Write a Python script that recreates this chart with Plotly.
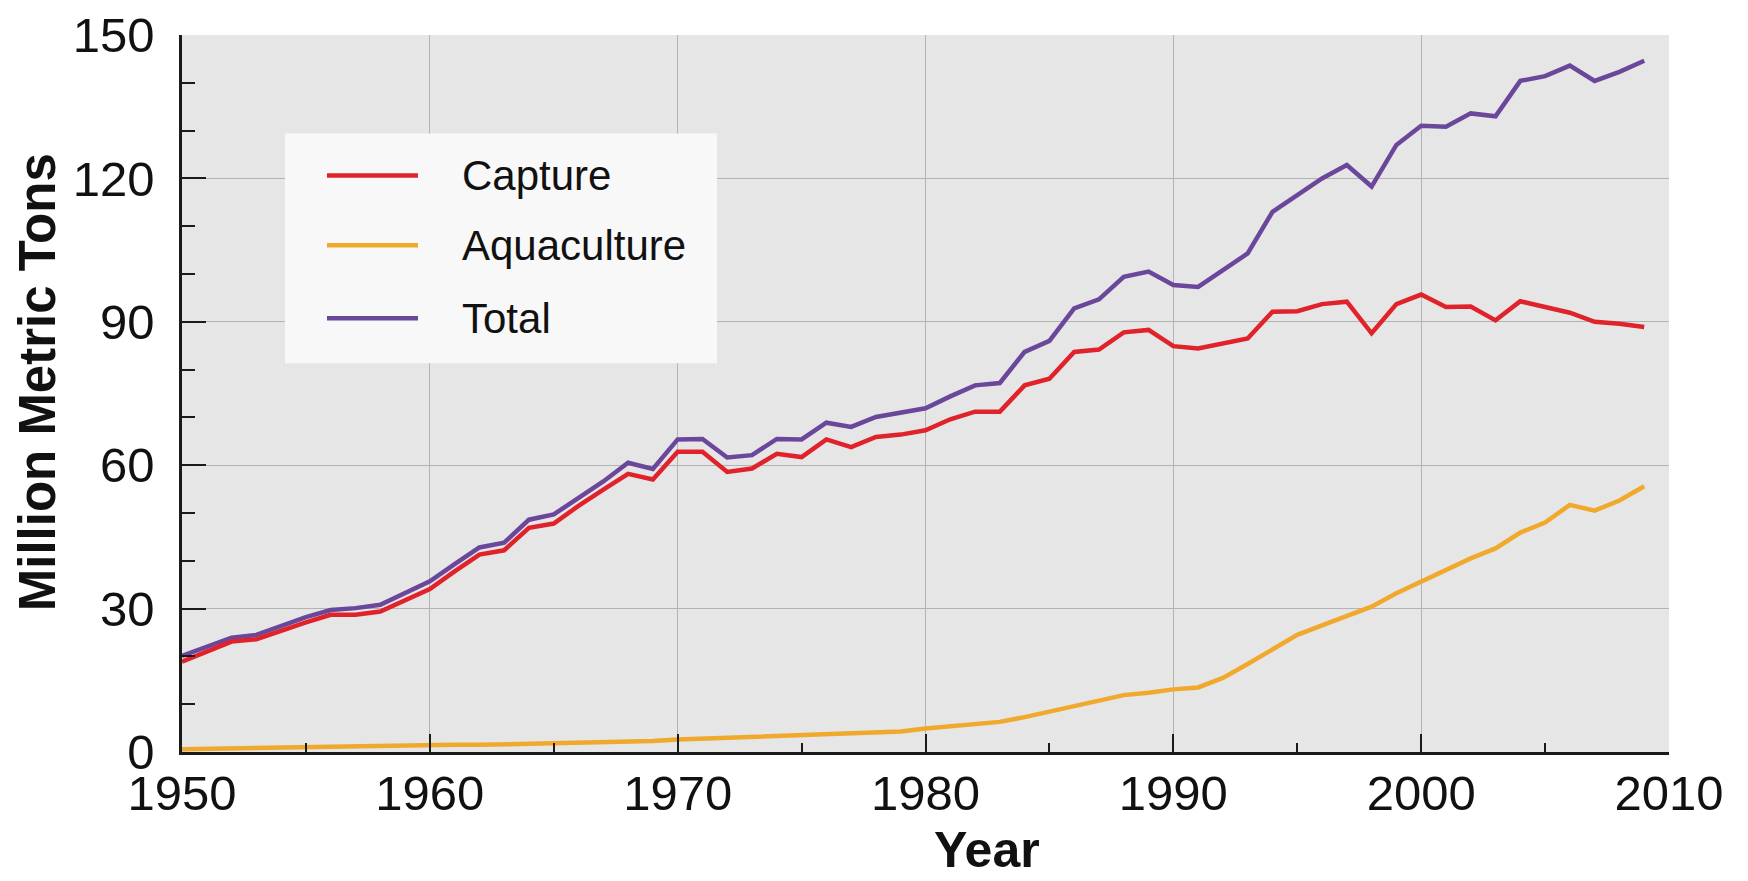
import plotly.graph_objects as go

years = list(range(1950, 2010))

capture = [18.9, 21.0, 23.1, 23.6, 25.4, 27.1, 28.7, 28.7, 29.4, 31.8,
           34.1, 37.8, 41.3, 42.2, 46.9, 47.8, 51.5, 54.9, 58.2, 57.0,
           62.8, 62.8, 58.6, 59.3, 62.4, 61.7, 65.4, 63.8, 65.9, 66.4,
           67.3, 69.6, 71.2, 71.2, 76.7, 78.1, 83.7, 84.2, 87.8, 88.3,
           84.9, 84.4, 85.5, 86.5, 92.1, 92.2, 93.7, 94.2, 87.6, 93.7,
           95.7, 93.1, 93.2, 90.3, 94.3, 93.2, 91.9, 90.0, 89.6, 88.9]

aquaculture = [0.6, 0.7, 0.8, 0.9, 1.0, 1.1, 1.2, 1.3, 1.3, 1.4,
               1.5, 1.5, 1.5, 1.6, 1.7, 1.9, 2.0, 2.1, 2.2, 2.3,
               2.6, 2.8, 3.0, 3.2, 3.3, 3.7, 3.8, 4.0, 4.1, 4.3,
               4.9, 5.4, 5.8, 6.3, 7.3, 8.4, 9.6, 10.8, 11.9, 12.4,
               13.1, 13.5, 15.5, 18.4, 21.4, 24.5, 26.5, 28.5, 30.4, 33.2,
               35.6, 38.1, 40.5, 42.6, 45.9, 48.0, 51.7, 50.5, 52.6, 55.6]

total = [20.1, 22.0, 23.9, 24.5, 26.4, 28.2, 29.7, 30.1, 30.8, 33.2,
         35.7, 39.3, 42.8, 43.8, 48.6, 49.7, 53.1, 56.6, 60.5, 59.2,
         65.4, 65.5, 61.6, 62.1, 65.5, 65.4, 68.9, 68.0, 70.1, 70.9,
         71.9, 74.4, 76.7, 77.2, 83.7, 86.0, 92.8, 94.7, 99.4, 100.5,
         97.7, 97.3, 100.8, 104.3, 113.0, 116.5, 120.0, 122.8, 118.3, 127.0,
         131.0, 130.8, 133.6, 133.0, 140.4, 141.4, 143.6, 140.4, 142.3, 144.6]

series_names = ["Capture", "Aquaculture", "Total"]
colors = {"Capture": "#e0232b", "Aquaculture": "#f0a92c", "Total": "#6b479c"}
FONT = "Liberation Sans, Arial, Helvetica, sans-serif"

fig = go.Figure()
data_map = {"Capture": capture, "Aquaculture": aquaculture, "Total": total}
for name in ["Total", "Aquaculture", "Capture"]:
    fig.add_trace(go.Scatter(
        x=years, y=data_map[name], mode="lines", name=name,
        line=dict(color=colors[name], width=4.5),
        showlegend=False,
    ))

# legend box (paper coords relative to plot area)
shapes = [dict(type="rect", xref="paper", yref="paper",
               x0=0.0693, x1=0.3598, y0=0.5422, y1=0.8627,
               fillcolor="#f8f8f8", line=dict(width=0), layer="above")]
annotations = []
row_y = [0.8042, 0.7066, 0.6049]
for name, yy in zip(series_names, row_y):
    shapes.append(dict(type="line", xref="paper", yref="paper",
                       x0=0.0975, x1=0.1587, y0=yy, y1=yy,
                       line=dict(color=colors[name], width=4.5), layer="above"))
    annotations.append(dict(text=name, xref="paper", yref="paper",
                            x=0.187, y=yy, xanchor="left", yanchor="middle",
                            showarrow=False,
                            font=dict(size=42, family=FONT, color="#111111")))

annotations += [
    dict(text="<b>Million Metric Tons</b>", textangle=-90,
         xref="paper", yref="paper", x=-0.0975, y=0.5157,
         xanchor="center", yanchor="middle", showarrow=False,
         font=dict(size=51, family=FONT, color="#111111")),
    dict(text="<b>Year</b>",
         xref="paper", yref="paper", x=0.5414, y=-0.137,
         xanchor="center", yanchor="middle", showarrow=False,
         font=dict(size=50, family=FONT, color="#111111")),
]

# page body has an 8px margin: figure is sized so that it fits the window
fig.update_layout(
    width=1740, height=873,
    margin=dict(l=174, r=79, t=27, b=129),
    paper_bgcolor="#ffffff",
    plot_bgcolor="#e6e6e6",
    font=dict(family=FONT, color="#111111"),
    showlegend=False,
    xaxis=dict(
        range=[1950, 2010], tick0=1950, dtick=10,
        automargin=False,
        showgrid=True, gridcolor="#b3b3b3", gridwidth=1,
        showline=True, linecolor="#1a1a1a", linewidth=2.5,
        ticks="inside", ticklen=18, tickwidth=2, tickcolor="#1a1a1a",
        minor=dict(dtick=5, tick0=1950, ticks="inside", ticklen=9, tickwidth=2,
                   tickcolor="#1a1a1a", showgrid=False),
        tickfont=dict(size=49, family=FONT, color="#111111"),
        ticklabelstandoff=-4,
        zeroline=False,
    ),
    yaxis=dict(
        range=[0, 150], tick0=0, dtick=30,
        automargin=False,
        showgrid=True, gridcolor="#b3b3b3", gridwidth=1,
        showline=True, linecolor="#1a1a1a", linewidth=2.5,
        ticks="inside", ticklen=24, tickwidth=2, tickcolor="#1a1a1a",
        minor=dict(dtick=10, tick0=0, ticks="inside", ticklen=13, tickwidth=2,
                   tickcolor="#1a1a1a", showgrid=False),
        tickfont=dict(size=49, family=FONT, color="#111111"),
        ticklabelstandoff=15,
        zeroline=False,
    ),
    shapes=shapes,
    annotations=annotations,
)

fig.write_html("out.html")
